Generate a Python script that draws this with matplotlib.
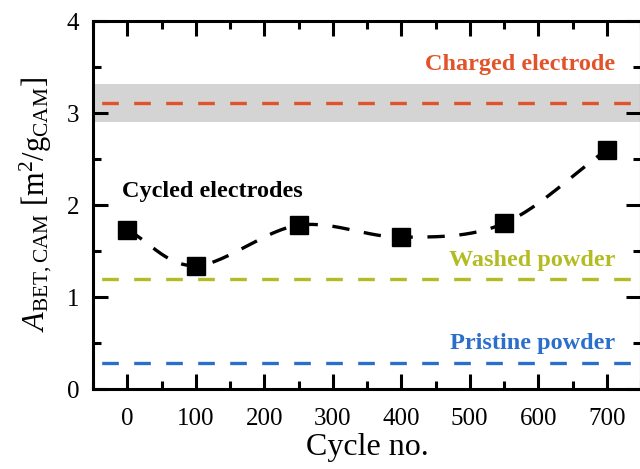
import numpy as np
import matplotlib
matplotlib.use("Agg")
import matplotlib.pyplot as plt
from matplotlib.ticker import MultipleLocator

plt.rcParams['font.family'] = ['Liberation Serif', 'DejaVu Serif']
plt.rcParams['mathtext.fontset'] = 'custom'
plt.rcParams['mathtext.rm'] = 'Liberation Serif'
plt.rcParams['mathtext.it'] = 'Liberation Serif:italic'
plt.rcParams['mathtext.bf'] = 'Liberation Serif:bold'

# Data
cycles = [0, 100, 250, 400, 550, 700]
area_cycled = [1.73, 1.34, 1.78, 1.65, 1.80, 2.60]
charged_value = 3.11
charged_band = (2.90, 3.32)
washed_value = 1.20
pristine_value = 0.28
x_ticks = [0, 100, 200, 300, 400, 500, 600, 700]
y_ticks = [0, 1, 2, 3, 4]

c_charged = '#E2532A'
c_washed = '#B3BC22'
c_pristine = '#2B6FCB'

def catmull_rom(x, y, n=30):
    x = np.asarray(x, float); y = np.asarray(y, float)
    px = np.concatenate([[2*x[0]-x[1]], x, [2*x[-1]-x[-2]]])
    py = np.concatenate([[2*y[0]-y[1]], y, [2*y[-1]-y[-2]]])
    xs, ys = [], []
    t = np.linspace(0, 1, n)
    for i in range(1, len(px)-2):
        for arr, out in ((px, xs), (py, ys)):
            p0, p1, p2, p3 = arr[i-1], arr[i], arr[i+1], arr[i+2]
            out.extend(0.5*((2*p1) + (-p0+p2)*t + (2*p0-5*p1+4*p2-p3)*t**2 + (-p0+3*p1-3*p2+p3)*t**3))
    return np.array(xs), np.array(ys)

fig = plt.figure(figsize=(6.4, 4.69), dpi=100)
ax = fig.add_axes([93/640, 1-389/469, (641-93)/640, (389-21)/469])

xlim = (-50, 750)
ax.axhspan(charged_band[0], charged_band[1], color='#D4D4D4', lw=0, zorder=0)
lw_h = 2.4
dash = (7, (5.0, 4.6))
ax.plot(xlim, [charged_value]*2, color=c_charged, lw=lw_h, ls=dash, zorder=1)
ax.plot(xlim, [washed_value]*2, color=c_washed, lw=lw_h, ls=dash, zorder=1)
ax.plot(xlim, [pristine_value]*2, color=c_pristine, lw=lw_h, ls=dash, zorder=1)

sx, sy = catmull_rom(cycles, area_cycled)
ax.plot(sx, sy, color='black', lw=2.4, ls=(0, (5.2, 4.4)), zorder=2)
ax.plot(cycles, area_cycled, 's', color='black', ms=13, zorder=3)

ax.set_xlim(*xlim)
ax.set_ylim(0, 4)
ax.set_xticks(x_ticks)
ax.set_yticks(y_ticks)
ax.xaxis.set_minor_locator(MultipleLocator(50))
ax.yaxis.set_minor_locator(MultipleLocator(0.5))
ax.tick_params(which='both', direction='in', top=True, right=True, width=2.2, labelsize=18)
ax.tick_params(axis='x', pad=14)
ax.tick_params(axis='y', pad=10)
ax.tick_params(which='major', length=11)
ax.tick_params(which='minor', length=6)
for s in ax.spines.values():
    s.set_linewidth(2.2)

ax.set_xlabel('Cycle no.', fontsize=23, labelpad=2)
ax.set_ylabel(r'$A_{\mathrm{BET,CAM}}$ [m$^2$/g$_{\mathrm{CAM}}$]', fontsize=22, labelpad=9)

fs = 17.5
ax.text(712, 3.53, 'Charged electrode', color=c_charged, fontsize=fs, fontweight='bold', ha='right', va='center')
ax.text(-8, 2.15, 'Cycled electrodes', color='black', fontsize=fs, fontweight='bold', ha='left', va='center')
ax.text(712, 1.40, 'Washed powder', color=c_washed, fontsize=fs, fontweight='bold', ha='right', va='center')
ax.text(712, 0.49, 'Pristine powder', color=c_pristine, fontsize=fs, fontweight='bold', ha='right', va='center')

fig.savefig('out.png', dpi=100)
